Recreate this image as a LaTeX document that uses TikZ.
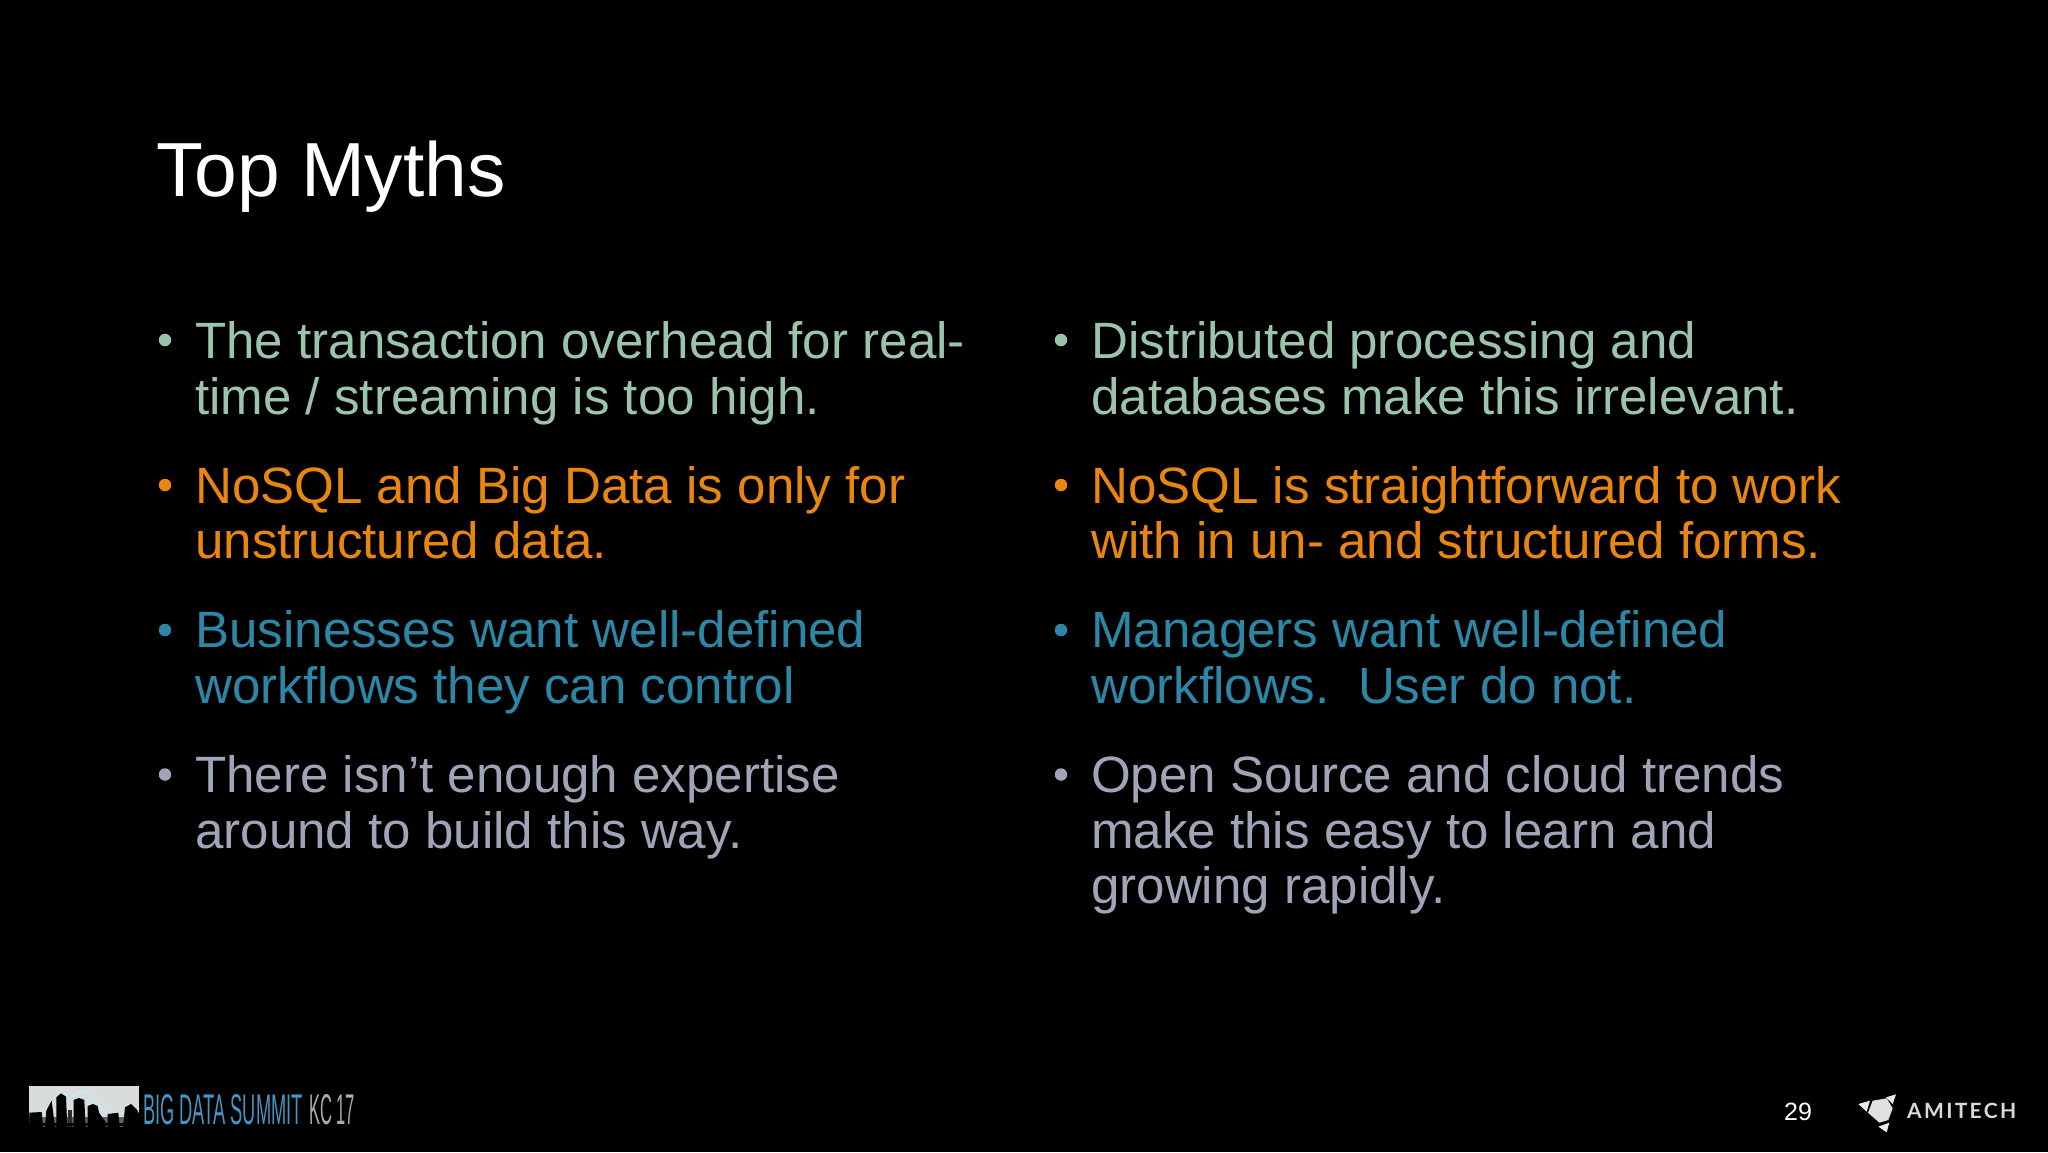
\documentclass[tikz,border=0pt]{standalone}
\usepackage{fontspec}
\setmainfont{Liberation Sans}
\newfontfamily\lato[LetterSpace=11]{Lato Bold}
\definecolor{mygreen}{HTML}{9CC4AC}
\definecolor{myorange}{HTML}{E8860F}
\definecolor{myblue}{HTML}{2C87A6}
\definecolor{mygrey}{HTML}{9FA4B8}
\definecolor{skyc}{HTML}{D9DCDC}
\definecolor{summitblue}{HTML}{4595C4}
\definecolor{kcgrey}{HTML}{A9ADB0}
\newcommand{\tstr}{\rule{0pt}{40pt}}
\tikzset{
  body/.style={anchor=north west,inner sep=0pt,align=left,text=#1,
    font=\fontsize{51.1}{55.5}\selectfont},
  dot/.style={circle,inner sep=0pt,minimum size=12.5pt,fill=#1},
  logotext/.style={anchor=base west,inner sep=0pt,text=#1,font=\fontsize{43}{45}\selectfont}
}
\begin{document}
\begin{tikzpicture}[x=1pt,y=-1pt]
\fill[black] (0,0) rectangle (2048,1152);
\useasboundingbox (0,0) rectangle (2048,1152);
\node[anchor=base west,inner sep=0pt,text=white,font=\fontsize{76.7}{80}\selectfont] (title) at (156,196.5) {Top Myths};
% left column
\node[dot=mygreen] (bl1) at (165,340) {};
\node[body=mygreen] (l1) at (195,318.3) {\tstr The transaction overhead for real-\\time / streaming is too high.};
\node[dot=myorange] (bl2) at (165,485) {};
\node[body=myorange] (l2) at (195,463) {\tstr NoSQL and Big Data is only for\\unstructured data.};
\node[dot=myblue] (bl3) at (165,630) {};
\node[body=myblue] (l3) at (195,607.6) {\tstr Businesses want well-defined\\workflows they can control};
\node[dot=mygrey] (bl4) at (165,774.5) {};
\node[body=mygrey] (l4) at (195,752.4) {\tstr There isn’t enough expertise\\around to build this way.};
% right column
\node[dot=mygreen] (br1) at (1061,340) {};
\node[body=mygreen] (r1) at (1091,318.3) {\tstr Distributed processing and\\databases make this irrelevant.};
\node[dot=myorange] (br2) at (1061,485) {};
\node[body=myorange] (r2) at (1091,463) {\tstr NoSQL is straightforward to work\\with in un- and structured forms.};
\node[dot=myblue] (br3) at (1061,630) {};
\node[body=myblue] (r3) at (1091,607.6) {\tstr Managers want well-defined\\workflows.\ \ User do not.};
\node[dot=mygrey] (br4) at (1061,774.5) {};
\node[body=mygrey] (r4) at (1091,752.4) {\tstr Open Source and cloud trends\\make this easy to learn and\\growing rapidly.};
% page number
\node[anchor=base west,inner sep=0pt,text=white,font=\fontsize{25}{27}\selectfont] (page) at (1784,1120) {29};
% Amitech logo
\begin{scope}[shift={(1760,1070)},x=.3333pt,y=-.3333pt]
  \fill[white!92!black] (295,102) -- (330,92) -- (320,125) -- cycle;
  \fill[white!92!black] (378,82) -- (408,73) -- (398,102) -- cycle;
  \fill[white!92!black] (355,170) -- (388,158) -- (380,187) -- cycle;
  \fill[white!88!black] (338,92) -- (380,85) -- (398,115) -- (385,150) -- (358,158) -- (324,128) -- cycle;
\end{scope}
\node[anchor=base west,inner sep=0pt,text=white!85!black,font=\lato\fontsize{21}{23}\selectfont] (ami) at (1907,1118) {AMITECH};
% Big Data Summit logo
\begin{scope}[shift={(25,1080)},x=.3333pt,y=-.3333pt]
  \fill[skyc] (13,17) rectangle (343,142);
  \draw[white!60!skyc!75!cyan,line width=1pt] (45,95) -- (180,30) -- (245,100) -- (300,98) -- (343,85);
  \fill[black!55!skyc] (13,112) rectangle (343,142);
  \fill[black] (13,142) -- (13,98) -- (50,96) -- (54,142) -- cycle;
  \fill[black] (60,142) -- (64,92) -- (80,62) -- (90,142) -- cycle;
  \fill[black] (94,142) -- (94,52) -- (108,40) -- (123,50) -- (127,142) -- cycle;
  \fill[black!80!skyc] (128,142) rectangle (141,90);
  \fill[black] (146,142) -- (146,60) -- (162,54) -- (178,60) -- (182,142) -- cycle;
  \fill[black] (188,142) -- (188,78) -- (204,72) -- (218,78) -- (222,98) -- (242,126) -- (242,142) -- cycle;
  \fill[black] (248,142) -- (248,102) -- (280,98) -- (284,142) -- cycle;
  \fill[black] (294,142) -- (300,82) -- (318,72) -- (335,88) -- (343,102) -- (343,142) -- cycle;
  \fill[black] (13,128) rectangle (343,138);
\end{scope}
\node[logotext=summitblue,xscale=.425] (bds) at (143,1124) {BIG DATA SUMMIT};
\node[logotext=kcgrey,xscale=.385] (kc) at (309,1124) {KC 17};
\end{tikzpicture}
\end{document}
